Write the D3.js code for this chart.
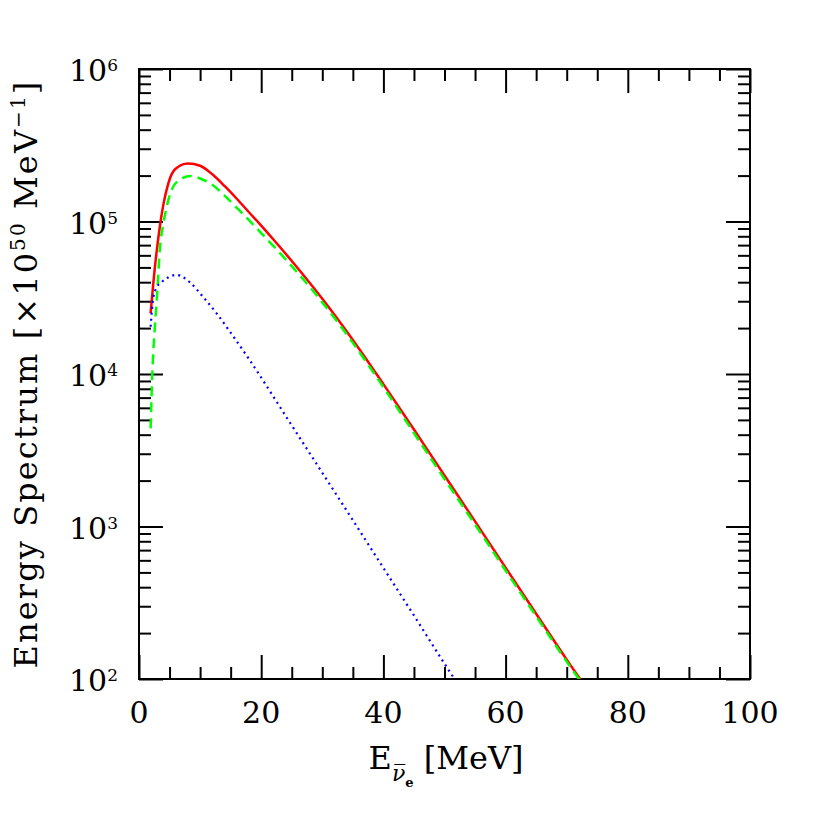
<!DOCTYPE html>
<html>
<head>
<meta charset="utf-8">
<script src="https://cdn.jsdelivr.net/npm/d3@7"></script>
<style>
  html, body { margin: 0; padding: 0; background: #fff; }
  svg { display: block; }
  text { font-family: "DejaVu Serif", serif; fill: #000; }
</style>
</head>
<body>
<div id="chart"></div>
<script>
// energy grid [MeV] and spectra [x10^50 MeV^-1]
var totalE   = [1.9, 2.6, 3.4, 4.0, 4.8, 5.9, 8.0, 10, 12, 14, 16, 18, 20, 22, 25, 30, 35, 40, 45, 50, 55, 60, 65, 70, 73];
var totalVal = [2.5e4, 5.0e4, 9.2e4, 1.3e5, 1.78e5, 2.2e5, 2.4e5, 2.32e5, 2.04e5, 1.71e5, 1.41e5, 1.15e5, 9.4e4, 7.62e4, 5.51e4, 3.115e4, 1.673e4, 8.58e3, 4.33e3, 2.16e3, 1.08e3, 537, 268, 134, 90];

var greenE   = [1.9, 2.2, 2.6, 3.0, 3.4, 4.0, 4.8, 6.2, 8.5, 10, 12, 14, 16, 18, 20, 22, 25, 30, 35, 40, 45, 50, 55, 60, 65, 70, 73];
var greenVal = [4.4e3, 1.06e4, 2.05e4, 3.5e4, 6.5e4, 9.7e4, 1.38e5, 1.82e5, 1.99e5, 1.915e5, 1.74e5, 1.48e5, 1.23e5, 1.02e5, 8.4e4, 6.9e4, 5.1e4, 2.95e4, 1.6e4, 8.2e3, 4.1e3, 2.05e3, 1.03e3, 515, 258, 130, 88];

var blueE    = [1.9, 2.35, 2.9, 3.7, 6.2, 8.3, 10.5, 12.7, 14.9, 17.9, 25, 30, 35, 40, 45, 50, 52];
var blueVal  = [2.04e4, 3.2e4, 3.7e4, 4.0e4, 4.46e4, 4.0e4, 3.2e4, 2.5e4, 1.89e4, 1.27e4, 4.6e3, 2.25e3, 1.1e3, 535, 261, 126, 95];

var xMajor = [0, 20, 40, 60, 80, 100];
var yMajor = [1e2, 1e3, 1e4, 1e5, 1e6];

var W = 817, H = 817;
var margin = {top: 69, right: 67, bottom: 138, left: 139};
var width = W - margin.left - margin.right,
    height = H - margin.top - margin.bottom;

var svg = d3.select("#chart").append("svg")
    .attr("width", W)
    .attr("height", H);

var x = d3.scaleLinear().domain([0, 100]).range([margin.left, margin.left + width]);
var y = d3.scaleLog().domain([1e2, 1e6]).range([margin.top + height, margin.top]);

svg.append("clipPath").attr("id", "clip")
  .append("rect")
    .attr("x", margin.left).attr("y", margin.top)
    .attr("width", width).attr("height", height);

// minor ticks
var xMinor = d3.range(0, 101, 5).filter(function(d) { return d % 20 !== 0; });
var yMinor = [];
yMajor.slice(0, -1).forEach(function(p) {
  for (var k = 2; k <= 9; k++) yMinor.push(p * k);
});

function tickLayer(axisFn, scale, vals, size, tx) {
  var g = svg.append("g")
    .attr("transform", tx)
    .call(axisFn(scale).tickValues(vals).tickSize(size).tickFormat(""));
  g.select(".domain").remove();
  g.selectAll("line").attr("stroke", "#000").attr("stroke-width", 2);
  return g;
}

var bottomY = "translate(0," + (margin.top + height) + ")";
var topY = "translate(0," + margin.top + ")";
var leftX = "translate(" + margin.left + ",0)";
var rightX = "translate(" + (margin.left + width) + ",0)";

tickLayer(d3.axisBottom, x, xMajor, -24, bottomY);
tickLayer(d3.axisBottom, x, xMinor, -12, bottomY);
tickLayer(d3.axisTop, x, xMajor, -24, topY);
tickLayer(d3.axisTop, x, xMinor, -12, topY);
tickLayer(d3.axisLeft, y, yMajor, -24, leftX);
tickLayer(d3.axisLeft, y, yMinor, -12, leftX);
tickLayer(d3.axisRight, y, yMajor, -24, rightX);
tickLayer(d3.axisRight, y, yMinor, -12, rightX);

// frame
svg.append("rect")
    .attr("x", margin.left).attr("y", margin.top)
    .attr("width", width).attr("height", height)
    .attr("fill", "none")
    .attr("stroke", "#000")
    .attr("stroke-width", 2);

// x tick labels
svg.selectAll(".xlab")
  .data(xMajor)
  .enter().append("text")
    .attr("x", function(d) { return x(d); })
    .attr("y", margin.top + height + 44)
    .attr("text-anchor", "middle")
    .style("font-size", "30px")
    .text(function(d) { return d; });

// y tick labels 10^n
var ylab = svg.selectAll(".ylab")
  .data(yMajor)
  .enter().append("text")
    .attr("x", 118)
    .attr("y", function(d) { return y(d) + 12; })
    .attr("text-anchor", "end")
    .style("font-size", "30px");
ylab.append("tspan").text("10");
ylab.append("tspan")
    .attr("dy", -10)
    .style("font-size", "17px")
    .text(function(d) { return Math.round(Math.log10(d)); });

// curves
var line = d3.line()
    .x(function(d) { return x(d[0]); })
    .y(function(d) { return y(d[1]); })
    .curve(d3.curveMonotoneX);

var curves = [
  {E: totalE, v: totalVal, color: "#ff0000", dash: null, w: 2.5},
  {E: greenE, v: greenVal, color: "#00ff00", dash: "10,6", w: 2.5},
  {E: blueE,  v: blueVal,  color: "#0000ff", dash: "2,4", w: 2.2}
];

var plot = svg.append("g").attr("clip-path", "url(#clip)");
curves.forEach(function(c) {
  var pts = c.E.map(function(e, i) { return [e, c.v[i]]; });
  plot.append("path")
    .datum(pts)
    .attr("d", line)
    .attr("fill", "none")
    .attr("stroke", c.color)
    .attr("stroke-width", c.w)
    .attr("stroke-dasharray", c.dash);
});

// axis titles
var xt = svg.append("text")
    .attr("x", 446)
    .attr("y", 769)
    .attr("text-anchor", "middle")
    .style("font-size", "32px");
xt.append("tspan").text("E");
xt.append("tspan").attr("dy", 12).style("font-size", "22px").style("font-style", "italic").text("\u03BD\u0305");
xt.append("tspan").attr("dy", 6).style("font-size", "13px").style("font-weight", "bold").text("e");
xt.append("tspan").attr("dy", -18).text("  [MeV]");

var yt = svg.append("text")
    .attr("transform", "translate(37," + (margin.top + height / 2) + ") rotate(-90)")
    .attr("text-anchor", "middle")
    .style("font-size", "32px")
    .style("letter-spacing", "2.1px");
yt.append("tspan").text("Energy Spectrum [\u00D710");
yt.append("tspan").attr("dy", -12).style("font-size", "20px").text("50");
yt.append("tspan").attr("dy", 12).text(" MeV");
yt.append("tspan").attr("dy", -12).style("font-size", "20px").text("\u22121");
yt.append("tspan").attr("dy", 12).text("]");
</script>
</body>
</html>
